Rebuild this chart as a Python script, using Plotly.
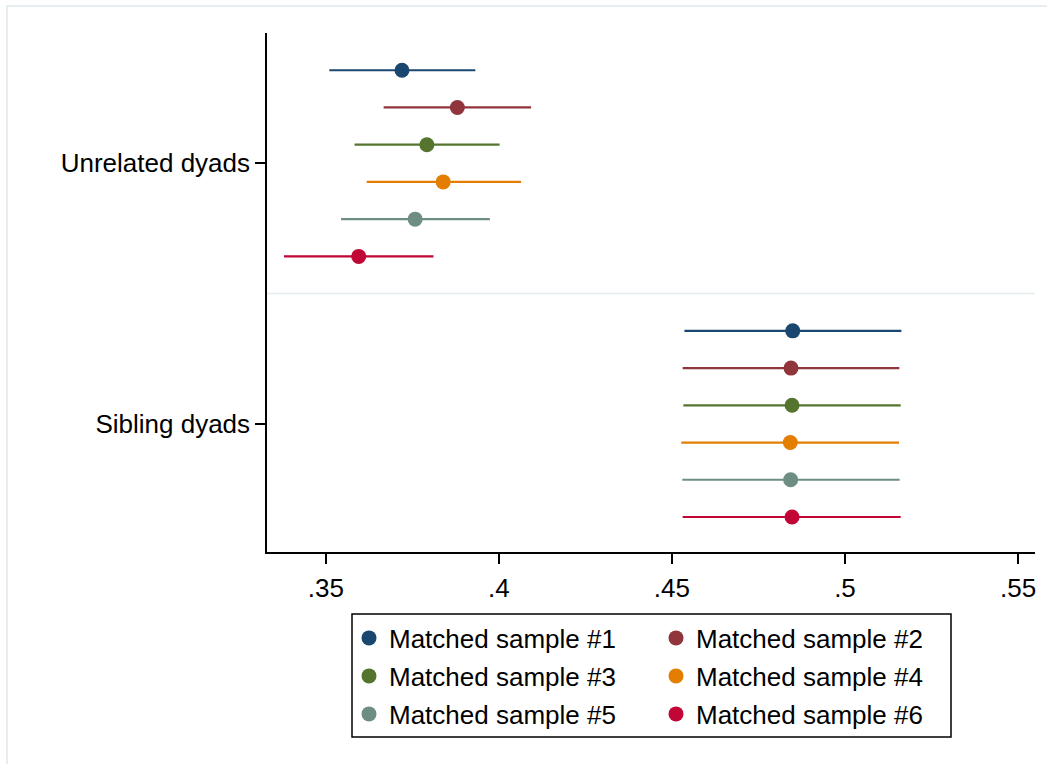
import plotly.graph_objects as go

groups = ["Unrelated dyads", "Sibling dyads"]
samples = ["Matched sample #1", "Matched sample #2", "Matched sample #3",
           "Matched sample #4", "Matched sample #5", "Matched sample #6"]
colors = ["#1a476f", "#90353b", "#55752f", "#e37e00", "#6e8e84", "#c10534"]

unrel_est = [0.3720, 0.3880, 0.3792, 0.3839, 0.3758, 0.3595]
unrel_lo = [0.3510, 0.3667, 0.3583, 0.3618, 0.3544, 0.3379]
unrel_hi = [0.3932, 0.4093, 0.4002, 0.4064, 0.3974, 0.3811]

sib_est = [0.4849, 0.4844, 0.4847, 0.4842, 0.4843, 0.4847]
sib_lo = [0.4536, 0.4531, 0.4533, 0.4527, 0.4530, 0.4531]
sib_hi = [0.5163, 0.5157, 0.5161, 0.5156, 0.5158, 0.5161]

x_ticks = [0.35, 0.40, 0.45, 0.50, 0.55]
x_ticktext = [".35", ".4", ".45", ".5", ".55"]

FONT = "Liberation Sans, Arial, Helvetica, sans-serif"
FS = 26
W, H = 1047, 764
L, R, T, B = 267, 1035, 33, 552
pw, ph = R - L, B - T


def px_x(p):
    return (p - L) / pw


def px_y(p):
    return (B - p) / ph


fig = go.Figure()
legend_ids = ["legend", "legend", "legend2", "legend2", "legend3", "legend3"]
for k, name in enumerate(samples):
    est = [unrel_est[k], sib_est[k]]
    lo = [unrel_lo[k], sib_lo[k]]
    hi = [unrel_hi[k], sib_hi[k]]
    ys = [1 + k, 8 + k]
    fig.add_trace(go.Scatter(
        x=est, y=ys, mode="markers", name=name,
        marker=dict(color=colors[k], size=15, line=dict(width=0)),
        error_x=dict(type="data", symmetric=False,
                     array=[h - e for h, e in zip(hi, est)],
                     arrayminus=[e - l for e, l in zip(est, lo)],
                     color=colors[k], thickness=2.2, width=0),
        legend=legend_ids[k],
    ))

row_y = [638, 676, 714]
leg_common = dict(orientation="h", xanchor="left", yanchor="middle",
                  x=px_x(349), bgcolor="rgba(0,0,0,0)", borderwidth=0,
                  entrywidth=262, entrywidthmode="pixels",
                  font=dict(family=FONT, size=FS, color="black"),
                  itemclick=False, itemdoubleclick=False)

fig.update_layout(
    width=W, height=H,
    margin=dict(l=L, r=W - R, t=T, b=H - B, pad=0),
    paper_bgcolor="white", plot_bgcolor="white",
    font=dict(family=FONT, size=FS, color="black"),
    showlegend=True,
    legend=dict(leg_common, y=px_y(row_y[0])),
    legend2=dict(leg_common, y=px_y(row_y[1])),
    legend3=dict(leg_common, y=px_y(row_y[2])),
    xaxis=dict(range=[0.333, 0.5549], tickmode="array", tickvals=x_ticks,
               ticktext=x_ticktext, ticks="outside", ticklen=10, tickwidth=1.5,
               tickcolor="black", showline=True, linecolor="black", linewidth=1.5,
               showgrid=False, zeroline=False, ticklabelstandoff=2,
               tickfont=dict(family=FONT, size=FS, color="black")),
    yaxis=dict(range=[13.94, 0], tickmode="array", tickvals=[3.5, 10.5],
               ticktext=groups, ticks="outside", ticklen=10, tickwidth=1.5,
               tickcolor="black", showline=True, linecolor="black", linewidth=1.5,
               showgrid=False, zeroline=False,
               tickfont=dict(family=FONT, size=FS, color="black")),
    shapes=[
        dict(type="line", xref="paper", yref="y", x0=0, x1=1, y0=7, y1=7,
             line=dict(color="#e3ecee", width=1.5), layer="below"),
        dict(type="rect", xref="paper", yref="paper",
             x0=px_x(352), x1=px_x(951), y0=px_y(737), y1=px_y(614),
             line=dict(color="black", width=1.5), layer="above"),
        dict(type="rect", xref="paper", yref="paper",
             x0=px_x(7), x1=px_x(1100), y0=px_y(820), y1=px_y(6),
             line=dict(color="#e6eef1", width=2), layer="below"),
    ],
)

fig.write_html("out.html")
